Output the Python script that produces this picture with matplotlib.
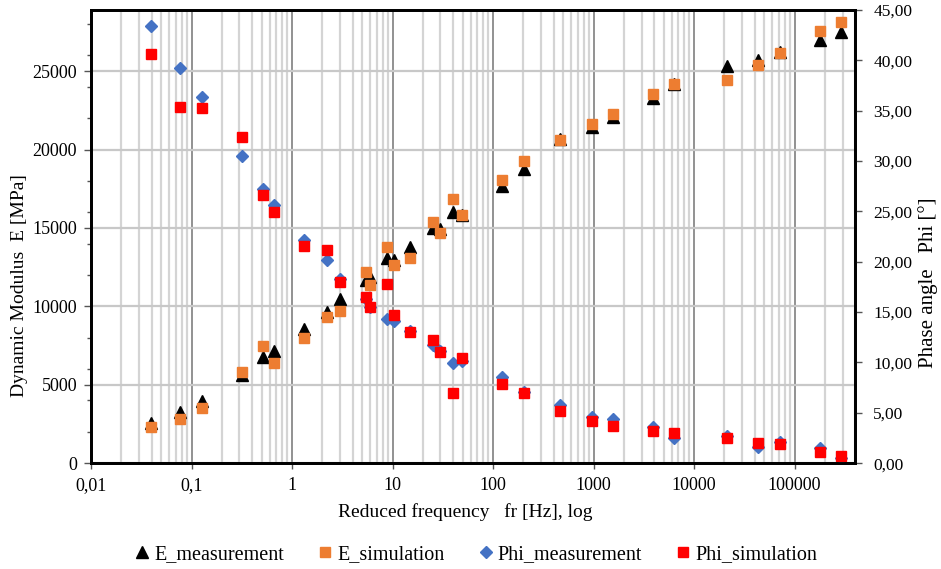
import numpy as np
import matplotlib.pyplot as plt
from matplotlib.ticker import FixedLocator, FuncFormatter, NullFormatter, LogLocator

plt.rcParams['font.family'] = ['Liberation Serif', 'DejaVu Serif']

# données
freq = [0.0393, 0.0775, 0.128, 0.321, 0.517, 0.665, 1.31, 2.21, 3.02, 5.45,
        6.0, 8.81, 10.26, 15.0, 25.1, 29.9, 40.1, 49.2, 123, 202,
        469, 955, 1570, 3930, 6310, 21400, 43600, 71800, 179000, 288000]

E_meas = [2550, 3250, 3990, 5620, 6790, 7170, 8530, 9620, 10460, 11650,
          11900, 13060, 12950, 13760, 14970, 14950, 16020, 15810, 17660, 18740,
          20700, 21440, 22080, 23290, 24160, 25300, 25690, 26210, 27000, 27490]
E_sim = [2290, 2800, 3540, 5800, 7470, 6410, 7960, 9300, 9720, 12200,
         11360, 13760, 12630, 13100, 15390, 14650, 16830, 15810, 18090, 19270,
         20640, 21610, 22250, 23570, 24200, 24460, 25370, 26180, 27530, 28130]
Phi_meas = [43.45, 39.28, 36.4, 30.55, 27.2, 25.68, 22.14, 20.19, 18.27, 16.3,
            15.55, 14.3, 14.16, 13.17, 11.75, 11.15, 9.93, 10.19, 8.54, 7.05,
            5.79, 4.63, 4.4, 3.57, 2.48, 2.71, 1.65, 2.15, 1.49, 0.5]
Phi_sim = [40.65, 35.35, 35.28, 32.37, 26.61, 24.95, 21.58, 21.18, 18.03, 16.54,
           15.55, 17.8, 14.73, 13.07, 12.24, 11.08, 6.95, 10.43, 7.87, 6.95,
           5.19, 4.2, 3.74, 3.24, 3.04, 2.48, 1.99, 1.89, 1.15, 0.72]

fig = plt.figure(figsize=(9.41, 5.69), dpi=100)
ax = fig.add_axes([0.0967, 0.186, 0.812, 0.7964])
ax2 = ax.twinx()

ax.set_xscale('log')
ax.set_xlim(0.01, 4e5)
ax.set_ylim(0, 28900)
ax2.set_ylim(0, 45)

# grille
ax.xaxis.set_major_locator(FixedLocator([0.01, 0.1, 1, 10, 100, 1000, 10000, 100000]))
ax.xaxis.set_minor_locator(LogLocator(base=10, subs=np.arange(2, 10), numticks=20))
ax.grid(True, which='minor', axis='x', color='#d4d4d4', lw=1.6)
ax.grid(True, which='major', axis='x', color='#7f7f7f', lw=1.2)
ax.grid(True, which='major', axis='y', color='#c8c8c8', lw=1.6)
ax.set_axisbelow(True)

def fmt_x(v, pos):
    if v >= 1:
        return '%d' % round(v)
    return ('%g' % v).replace('.', ',')

ax.xaxis.set_major_formatter(FuncFormatter(fmt_x))
ax.xaxis.set_minor_formatter(NullFormatter())
ax.yaxis.set_major_locator(FixedLocator([0, 5000, 10000, 15000, 20000, 25000]))
ax.yaxis.set_minor_locator(FixedLocator(np.arange(2000, 29000, 2000)))
ax2.yaxis.set_major_locator(FixedLocator(np.arange(0, 46, 5)))
ax2.yaxis.set_major_formatter(FuncFormatter(lambda v, p: ('%.2f' % v).replace('.', ',')))

ax.tick_params(axis='x', which='major', length=4, width=1, labelsize=13, pad=6, color='#555555')
ax.tick_params(axis='x', which='minor', length=0)
ax.tick_params(axis='y', which='major', length=5, width=1, labelsize=13, pad=5, color='#555555')
ax.tick_params(axis='y', which='minor', length=3, width=1, color='#555555')
ax2.tick_params(axis='y', which='major', length=5, width=1, labelsize=12.5, pad=8, color='#555555')

for a in (ax, ax2):
    for s in a.spines.values():
        s.set_linewidth(2)
        s.set_color('black')

# séries
h1, = ax.plot(freq, E_meas, '^', color='black', ms=8.5, ls='none', label='E_measurement')
h2, = ax.plot(freq, E_sim, 's', color='#ed7d31', ms=6.5, ls='none', label='E_simulation')
h3, = ax2.plot(freq, Phi_meas, 'D', color='#4472c4', ms=6.5, ls='none', label='Phi_measurement')
h4, = ax2.plot(freq, Phi_sim, 's', color='#ff0000', ms=7, ls='none', label='Phi_simulation')

ax.set_ylabel('Dynamic Modulus  E [MPa]', fontsize=14, va='center')
ax.yaxis.set_label_coords(-0.093, 0.391)
ax2.set_ylabel('Phase angle   Phi [°]', fontsize=15, va='center')
ax2.yaxis.set_label_coords(1.0955, 0.398)
ax.set_xlabel('Reduced frequency   fr [Hz], log', fontsize=14, va='center')
ax.xaxis.set_label_coords(0.4895, -0.107)

fig.legend(handles=[h1, h2, h3, h4], loc='center', ncol=4, frameon=False,
           fontsize=14.5, bbox_to_anchor=(0.505, 0.026), handletextpad=0.15,
           columnspacing=1.6, handlelength=0.9)

fig.savefig('out.png', dpi=100)
